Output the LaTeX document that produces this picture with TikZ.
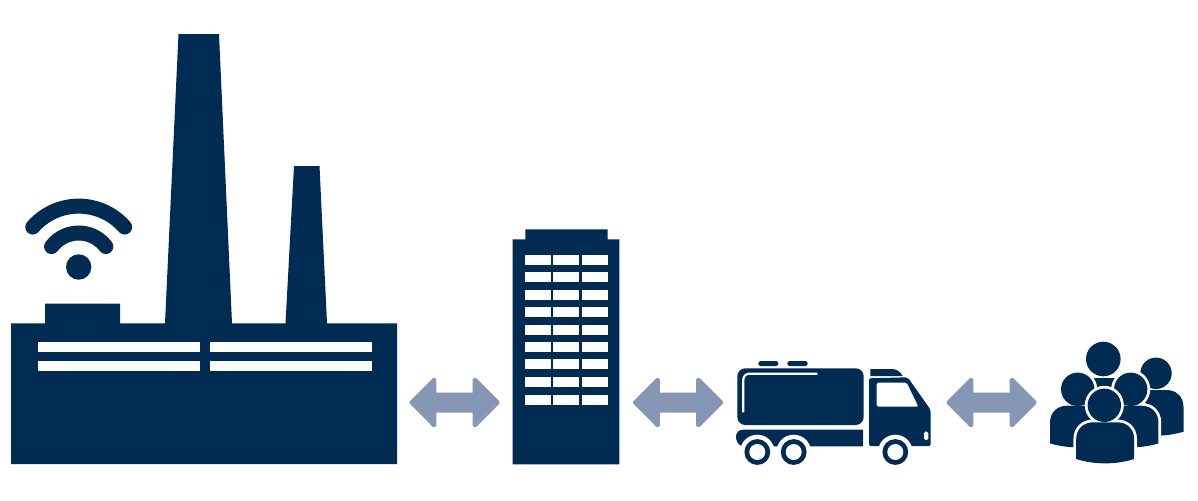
\documentclass[tikz,border=0pt]{standalone}
\definecolor{navy}{RGB}{0,43,82}
\definecolor{steel}{RGB}{133,151,181}
\newcommand{\fatarrow}[1]{%
  \begin{scope}[xshift=#1*0.75pt]
    \filldraw[arrowfill] (1.8,24.3) -- (24.6,1.3) -- (25.8,1.3) -- (25.8,15.8) -- (65.2,15.8) -- (65.2,1.3) -- (66.4,1.3) -- (89.4,24.3) -- (66.4,47.3) -- (65.2,47.3) -- (65.2,32.8) -- (25.8,32.8) -- (25.8,47.3) -- (24.6,47.3) -- cycle;
  \end{scope}}
\newcommand{\bodyat}[6]{% cx, top, halfwidth, sideheight, midheight, options
  \path[#6] (#1-#3,#2+#4) -- (#1-#3,#2+17) .. controls (#1-#3,#2+6) and (#1-#3+8,#2) .. (#1-#3+17,#2) -- (#1+#3-17,#2) .. controls (#1+#3-8,#2) and (#1+#3,#2+6) .. (#1+#3,#2+17) -- (#1+#3,#2+#4) .. controls (#1+#3-18,#2+#5) and (#1-#3+18,#2+#5) .. (#1-#3,#2+#4) -- cycle;}
\newcommand{\personat}[7]{% cx, top, halfwidth, side, mid, headx, heady
  \bodyat{#1}{#2}{#3}{#4}{#5}{draw=white,line width=5.6*0.75pt,line join=round}
  \draw[white,line width=5.6*0.75pt] (#6,#7) circle[radius=16.7];
  \bodyat{#1}{#2}{#3}{#4}{#5}{fill=navy}
  \fill[navy] (#6,#7) circle[radius=16.7];}
\tikzset{
  arrowfill/.style={fill=steel,draw=steel,line width=3*0.75pt,line join=round},
  glass/.style={fill=white},
  wave/.style={draw=navy,line width=15*0.75pt,line cap=round},
}
\begin{document}
\begin{tikzpicture}[x=0.75pt,y=-0.75pt]
\useasboundingbox (0,0) rectangle (1198,500);
% factory
\fill[navy] (11,323.3) -- (45,323.3) -- (45,303.7) -- (120,303.7) -- (120,323.3) -- (165,323.3) -- (178.5,34) -- (219,34) -- (232,323.3) -- (285.5,323.3) -- (294,166) -- (319.5,166) -- (327,323.3) -- (397,323.3) -- (397,464) -- (11,464) -- cycle;
\foreach \y in {341.5,360.5} {
  \fill[glass] (38,\y) rectangle (200.3,\y+10);
  \fill[glass] (209.5,\y) rectangle (372,\y+10);
}
\fill[navy] (78.7,267) circle[radius=12.7];
\draw[wave] (78.7,267) ++(221:60.9) arc[start angle=221,end angle=319,radius=60.9];
\draw[wave] (78.7,267) ++(217:34) arc[start angle=217,end angle=323,radius=34];
% arrows
\begin{scope}[yshift=-378.2*0.75pt]
\fatarrow{409}
\fatarrow{632.5}
\fatarrow{946}
\end{scope}
% building
\fill[navy] (512.7,239.3) -- (525.3,239.3) -- (525.3,229.3) -- (607.7,229.3) -- (607.7,239.3) -- (619.3,239.3) -- (619.3,464.3) -- (512.7,464.3) -- cycle;
\foreach \y in {254.7,272.3,290.3,306.7,324.7,342.3,359.3,377.3,395} {
  \fill[glass] (525.3,\y) rectangle (551,\y+10);
  \fill[glass] (553.3,\y) rectangle (579,\y+10);
  \fill[glass] (582.3,\y) rectangle (607.7,\y+10);
}
% truck
\fill[navy,rounded corners=8*0.75pt] (737.3,368.3) rectangle (863.7,425);
\draw[white,line width=2.2*0.75pt,rounded corners=6*0.75pt] (743.3,412.3) -- (743.3,373.7) -- (817.3,373.7);
\fill[navy,rounded corners=2.4*0.75pt] (758.3,361) rectangle (778.3,366);
\fill[navy,rounded corners=2.4*0.75pt] (787.3,361) rectangle (807.7,366);
\fill[navy] (863,429.7) -- (743,429.7) .. controls (738.5,429.7) and (736,433) .. (736,437) .. controls (736,441) and (738,444.5) .. (742,446.3) -- (863,446.3) -- cycle;
\fill[navy,rounded corners=2*0.75pt] (869,378.3) -- (907.7,377.3) -- (930.7,410) -- (930.7,446) -- (869,446) -- cycle;
\fill[navy] (870.3,369) -- (892,369) .. controls (897,369) and (900.5,372) .. (902.7,376) -- (870.3,376) -- cycle;
\fill[white,rounded corners=1.5*0.75pt] (876.7,382.7) -- (906.7,382.7) -- (918.3,406.7) -- (876.7,406.7) -- cycle;
\fill[white,rounded corners=1.5*0.75pt] (924,431.7) rectangle (928.3,440);
\foreach \cx in {757.3,793.7,895.3} {
  \fill[white] (\cx,452) circle[radius=17.3];
  \fill[navy] (\cx,452) circle[radius=12.9];
  \fill[white] (\cx,452) circle[radius=8];
}
% people
\bodyat{1156}{390}{27.5}{41.7}{47}{fill=navy}
\fill[navy] (1156,373.3) circle[radius=15.7];
\fill[navy] (1092,377.5) rectangle (1115,395);
\fill[navy] (1103.3,359) circle[radius=17.3];
\personat{1077.7}{405.7}{27.7}{37.7}{43}{1077.7}{389.3}
\personat{1130.7}{405.7}{27.7}{37.7}{43}{1130.7}{389.3}
\personat{1105.2}{422.3}{29}{36.7}{42.5}{1104.3}{405.3}
\end{tikzpicture}
\end{document}
